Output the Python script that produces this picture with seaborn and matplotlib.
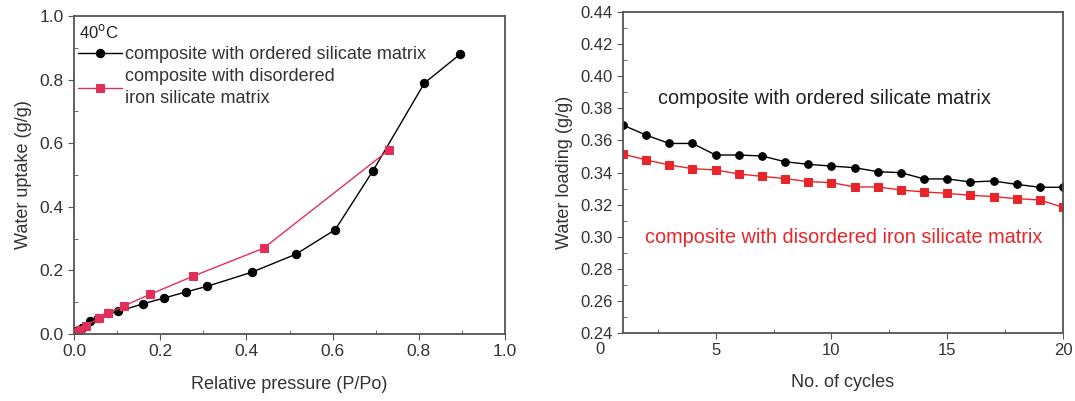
import numpy as np
import pandas as pd
import matplotlib
matplotlib.use("Agg")
import matplotlib.pyplot as plt
import seaborn as sns
from matplotlib.ticker import MultipleLocator, FormatStrFormatter

# ----------------------------
# DATA
# ----------------------------

# left: isotherm at 40 C
p_ordered = [0.005, 0.018, 0.037, 0.055, 0.08, 0.103, 0.16, 0.209, 0.259, 0.309,
             0.412, 0.515, 0.606, 0.694, 0.813, 0.896]
u_ordered = [0.008, 0.019, 0.040, 0.050, 0.066, 0.071, 0.095, 0.113, 0.132, 0.150,
             0.194, 0.251, 0.328, 0.514, 0.789, 0.880]

p_disordered = [0.005, 0.015, 0.028, 0.057, 0.08, 0.117, 0.177, 0.275, 0.44, 0.731]
u_disordered = [0.005, 0.012, 0.026, 0.050, 0.066, 0.089, 0.125, 0.181, 0.270, 0.579]

# right: cycling
cycles = list(range(1, 21))
load_ordered = [0.3695, 0.3633, 0.3581, 0.3581, 0.3509, 0.3509, 0.3503, 0.3467, 0.3451, 0.3440,
                0.3430, 0.3405, 0.3399, 0.3360, 0.3360, 0.3341, 0.3347, 0.3326, 0.3308, 0.3308]
load_disordered = [0.3515, 0.3478, 0.3447, 0.3424, 0.3416, 0.3391, 0.3376, 0.3362, 0.3343, 0.3337,
                   0.3310, 0.3310, 0.3291, 0.3279, 0.3270, 0.3258, 0.3250, 0.3237, 0.3229, 0.3183]

lbl_ord = "composite with ordered silicate matrix"
lbl_dis = "composite with disordered\niron silicate matrix"
lbl_dis_long = "composite with disordered iron silicate matrix"

# ----------------------------
# STYLE
# ----------------------------

sns.set_style("ticks")
plt.rcParams["font.family"] = ["Liberation Sans", "DejaVu Sans"]
plt.rcParams["axes.edgecolor"] = "#555555"
plt.rcParams["xtick.color"] = "#555555"
plt.rcParams["ytick.color"] = "#555555"
plt.rcParams["xtick.labelcolor"] = "#333333"
plt.rcParams["ytick.labelcolor"] = "#333333"

RED_L = "#e0305a"
RED_R = "#e8262a"

fig = plt.figure(figsize=(10.75, 4.01), dpi=100)
W, H = 1075, 401
ax1 = fig.add_axes([74 / W, 1 - 334 / H, (505 - 74) / W, (334 - 16) / H])
ax2 = fig.add_axes([623 / W, 1 - 333 / H, (1063 - 623) / W, (333 - 12) / H])

# ----------------------------
# LEFT PANEL
# ----------------------------

sns.lineplot(x=p_ordered, y=u_ordered, ax=ax1, color="black", marker="o", markersize=6,
             markeredgecolor="black", lw=1, label=lbl_ord, sort=False)
sns.lineplot(x=p_disordered, y=u_disordered, ax=ax1, color=RED_L, marker="s", markersize=6,
             markeredgecolor=RED_L, lw=1, label=lbl_dis, sort=False)

ax1.set_xlim(0, 1.0)
ax1.set_ylim(0, 1.0)
ax1.xaxis.set_major_locator(MultipleLocator(0.2))
ax1.yaxis.set_major_locator(MultipleLocator(0.2))
ax1.xaxis.set_minor_locator(MultipleLocator(0.1))
ax1.yaxis.set_minor_locator(MultipleLocator(0.1))
ax1.xaxis.set_major_formatter(FormatStrFormatter("%.1f"))
ax1.yaxis.set_major_formatter(FormatStrFormatter("%.1f"))
ax1.tick_params(which="major", direction="out", length=4, labelsize=12.5)
ax1.tick_params(which="minor", direction="in", length=3)
ax1.set_xlabel("Relative pressure (P/Po)", fontsize=13, color="#333333", labelpad=12)
ax1.set_ylabel("Water uptake (g/g)", fontsize=13, color="#333333", labelpad=5)

ax1.text(0.012, 0.978, "40$^{\\rm o}$C", transform=ax1.transAxes, ha="left", va="top",
         fontsize=12, color="#222222")
leg = ax1.legend(loc="upper left", bbox_to_anchor=(-0.015, 0.94), frameon=False,
                 fontsize=13, handlelength=2.4, handletextpad=0.2, labelspacing=0.3,
                 borderaxespad=0.2)
for t in leg.get_texts():
    t.set_color("#333333")
    t.set_linespacing(1.35)

# ----------------------------
# RIGHT PANEL
# ----------------------------

sns.lineplot(x=cycles, y=load_ordered, ax=ax2, color="black", marker="o", markersize=5.5,
             markeredgecolor="black", lw=1, legend=False)
sns.lineplot(x=cycles, y=load_disordered, ax=ax2, color=RED_R, marker="s", markersize=5.5,
             markeredgecolor=RED_R, lw=1, legend=False)

ax2.set_xlim(1, 20)
ax2.set_ylim(0.24, 0.44)
ax2.set_xticks([5, 10, 15, 20])
ax2.xaxis.set_minor_locator(MultipleLocator(2.5))
ax2.yaxis.set_major_locator(MultipleLocator(0.02))
ax2.yaxis.set_minor_locator(MultipleLocator(0.01))
ax2.yaxis.set_major_formatter(FormatStrFormatter("%.2f"))
ax2.tick_params(which="major", direction="out", length=4, labelsize=12)
ax2.tick_params(which="minor", direction="in", length=3)
# the "0" label sits left of the spine in the original
ax2.text(0, 0.2345, "0", ha="center", va="top", fontsize=12,
         color="#333333", clip_on=False)
ax2.set_xlabel("No. of cycles", fontsize=13, color="#333333", labelpad=11)
ax2.set_ylabel("Water loading (g/g)", fontsize=13, color="#333333", labelpad=5)

ax2.text(9.7, 0.3858, lbl_ord, ha="center", va="center", fontsize=14.3, color="#222222")
ax2.text(10.55, 0.2992, lbl_dis_long, ha="center", va="center", fontsize=14.3, color=RED_R)

for ax in (ax1, ax2):
    for s in ax.spines.values():
        s.set_visible(True)
        s.set_linewidth(1.3)

fig.savefig("out.png", dpi=100)
